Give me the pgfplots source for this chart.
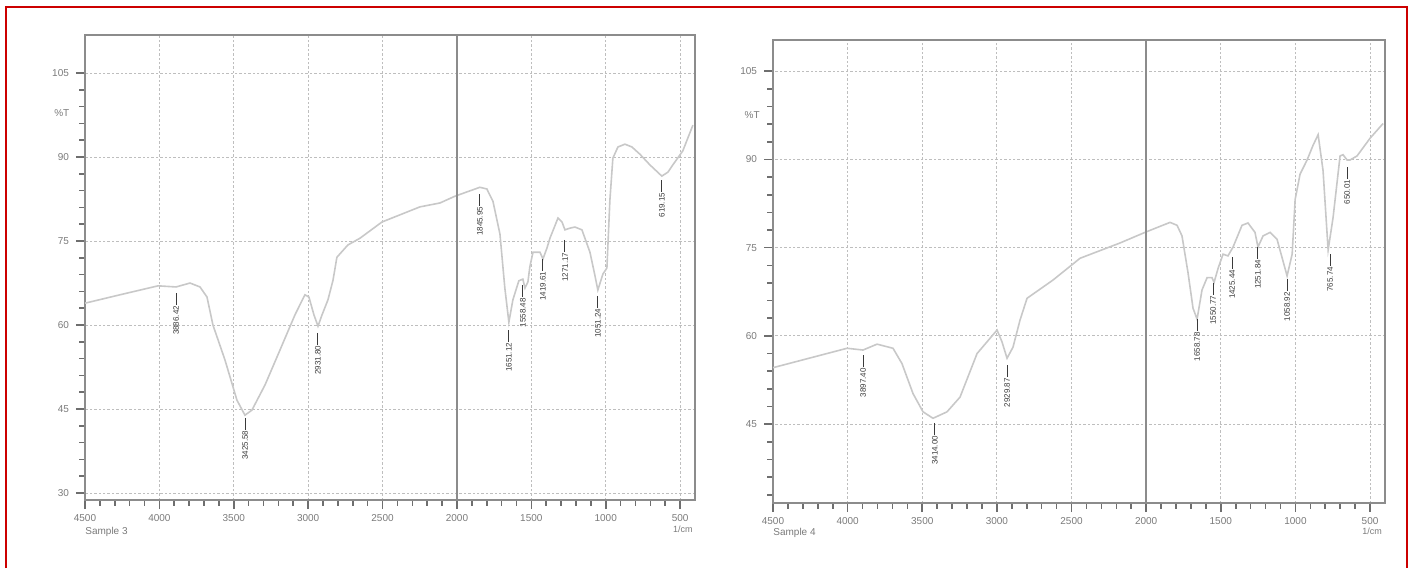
\documentclass[border=0pt]{standalone}
\usepackage{fontspec}
\setmainfont{Liberation Sans}
\usepackage{pgfplots}
\pgfplotsset{compat=1.18}

\definecolor{frame}{HTML}{8C8C8C}
\definecolor{tickc}{HTML}{6E6E6E}
\definecolor{gridc}{HTML}{BEBEBE}
\definecolor{spec}{HTML}{C8C8C8}
\definecolor{pkc}{HTML}{3A3A3A}
\definecolor{lbl}{HTML}{7A7A7A}
\definecolor{bord}{HTML}{CC0000}

% peak marker: x, y where the marker starts, wavenumber text
\newcommand{\pk}[3]{\draw[pkc, line width=0.5pt] (axis cs:#1,#2) -- ++(0pt,-6pt)
  node[rotate=90, anchor=east, inner sep=0.2pt, font=\fontsize{4}{4}\selectfont, text=pkc] {#3};}

\pgfplotsset{ftir/.style={
  scale only axis, clip=false,
  x dir=reverse, xmin=400, xmax=4500,
  xtick={500,1000,...,4500}, minor x tick num=4,
  ytick={30,45,...,105}, minor y tick num=4,
  tick pos=left,
  tick align=outside, major tick length=4.5pt, minor tick length=2.8pt,
  every tick/.style={tickc, line width=0.8pt},
  axis line style={frame, line width=1.2pt},
  grid=major, grid style={gridc, dash pattern=on 1.2pt off 1pt, line width=0.5pt},
  ticklabel style={font=\fontsize{5}{5}\selectfont, text=lbl},
  xticklabel style={yshift=1pt},
  /pgf/number format/assume math mode=true,
  /pgf/number format/1000 sep={},
}}

\begin{document}
\begin{tikzpicture}
\path[use as bounding box] (0,0) rectangle (706.5pt,284pt);
\draw[bord, line width=1.2pt] (2.9pt,0) -- (2.9pt,280.4pt) -- (703.5pt,280.4pt) -- (703.5pt,0);

% Sample 3
\begin{axis}[ftir, at={(42.5pt,34pt)}, anchor=south west, width=305pt, height=232.5pt,
  ymin=28.75, ymax=111.8]
\addplot[spec, line width=0.8pt] coordinates {
(4500,63.9) (4265,65.4) (4009,67.0) (3888,66.8) (3794,67.5) (3727,66.8) (3680,65.0)
(3640,60.0) (3559,53.75) (3479,46.6) (3425,43.9) (3378,44.8) (3290,49.3) (3190,55.5)
(3089,61.8) (3022,65.4) (2995,65.0) (2961,61.8) (2934,59.8) (2907,61.8) (2867,64.5)
(2833,68.0) (2807,72.1) (2733,74.3) (2652,75.5) (2504,78.4) (2249,81.1) (2114,81.8)
(2014,83.0) (1846,84.6) (1799,84.3) (1758,82.1) (1711,76.25) (1678,66.6) (1651,60.5)
(1624,64.5) (1584,67.9) (1557,68.2) (1543,66.6) (1523,67.7) (1510,70.4) (1489,73.0)
(1442,73.0) (1422,71.8) (1395,73.75) (1375,75.5) (1321,79.1) (1294,78.4) (1274,77.0)
(1241,77.3) (1207,77.5) (1160,77.0) (1106,73.0) (1073,68.9) (1053,66.25) (1019,69.1)
(992,70.2) (972,82.3) (952,89.8) (918,91.8) (871,92.3) (824,91.8) (770,90.5)
(703,88.6) (623,86.6) (582,87.3) (549,88.6) (482,91.1) (414,95.7)
};
\draw[frame, line width=1.2pt] (axis cs:2000,28.75) -- (axis cs:2000,111.8);
\pk{3888}{65.7}{3886.42}
\pk{3424}{43.4}{3425.58}
\pk{2934}{58.6}{2931.80}
\pk{1846}{83.4}{1845.95}
\pk{1651}{59.1}{1651.12}
\pk{1557}{67.1}{1558.48}
\pk{1422}{71.8}{1419.61}
\pk{1274}{75.2}{1271.17}
\pk{1053}{65.2}{1051.24}
\pk{623}{85.9}{619.15}
\node[font=\fontsize{5}{5}\selectfont, text=lbl] at (rel axis cs:-0.038,0.832) {\%T};
\node[font=\fontsize{5}{5}\selectfont, text=lbl, anchor=west, inner sep=0pt] at (rel axis cs:0,-0.068) {Sample 3};
\node[font=\fontsize{4.5}{5}\selectfont, text=lbl, inner sep=0pt] at (rel axis cs:0.98,-0.064) {1/cm};
\end{axis}

% Sample 4
\begin{axis}[ftir, at={(386.5pt,32.5pt)}, anchor=south west, width=306pt, height=231.5pt,
  ymin=31.6, ymax=110.3]
\addplot[spec, line width=0.8pt] coordinates {
(4500,54.6) (4252,56.25) (4004,57.9) (3897,57.6) (3803,58.6) (3696,57.9) (3636,55.3)
(3562,50.2) (3495,47.1) (3428,46.0) (3334,47.1) (3247,49.6) (3133,57.0) (3046,59.6)
(2999,61.0) (2966,59.0) (2932,56.2) (2892,58.1) (2845,62.7) (2798,66.4) (2624,69.5)
(2443,73.2) (2175,75.8) (2008,77.6) (1840,79.3) (1793,78.8) (1760,77.0) (1720,70.8)
(1686,64.7) (1659,62.85) (1626,67.8) (1592,69.9) (1559,69.9) (1545,69.1) (1518,71.5)
(1485,73.9) (1452,73.6) (1418,75.1) (1358,78.8) (1318,79.2) (1271,77.6) (1251,75.1)
(1217,77.0) (1170,77.6) (1123,76.4) (1083,72.7) (1056,70.2) (1022,73.9) (1002,83.2)
(969,87.5) (922,89.9) (882,92.4) (848,94.2) (815,88.1) (781,74.6) (748,80.1)
(701,90.6) (681,90.8) (654,89.9) (634,89.9) (587,90.6) (500,93.6) (413,96.1)
};
\draw[frame, line width=1.2pt] (axis cs:2000,31.6) -- (axis cs:2000,110.3);
\pk{3897}{56.7}{3897.40}
\pk{3415}{45.2}{3414.00}
\pk{2932}{55.0}{2929.87}
\pk{1659}{62.8}{1658.78}
\pk{1552}{69.0}{1550.77}
\pk{1425}{73.4}{1425.44}
\pk{1251}{75.1}{1251.84}
\pk{1056}{69.6}{1058.92}
\pk{768}{73.9}{765.74}
\pk{654}{88.7}{650.01}
\node[font=\fontsize{5}{5}\selectfont, text=lbl] at (rel axis cs:-0.034,0.838) {\%T};
\node[font=\fontsize{5}{5}\selectfont, text=lbl, anchor=west, inner sep=0pt] at (rel axis cs:0,-0.064) {Sample 4};
\node[font=\fontsize{4.5}{5}\selectfont, text=lbl, inner sep=0pt] at (rel axis cs:0.979,-0.062) {1/cm};
\end{axis}
\end{tikzpicture}
\end{document}
